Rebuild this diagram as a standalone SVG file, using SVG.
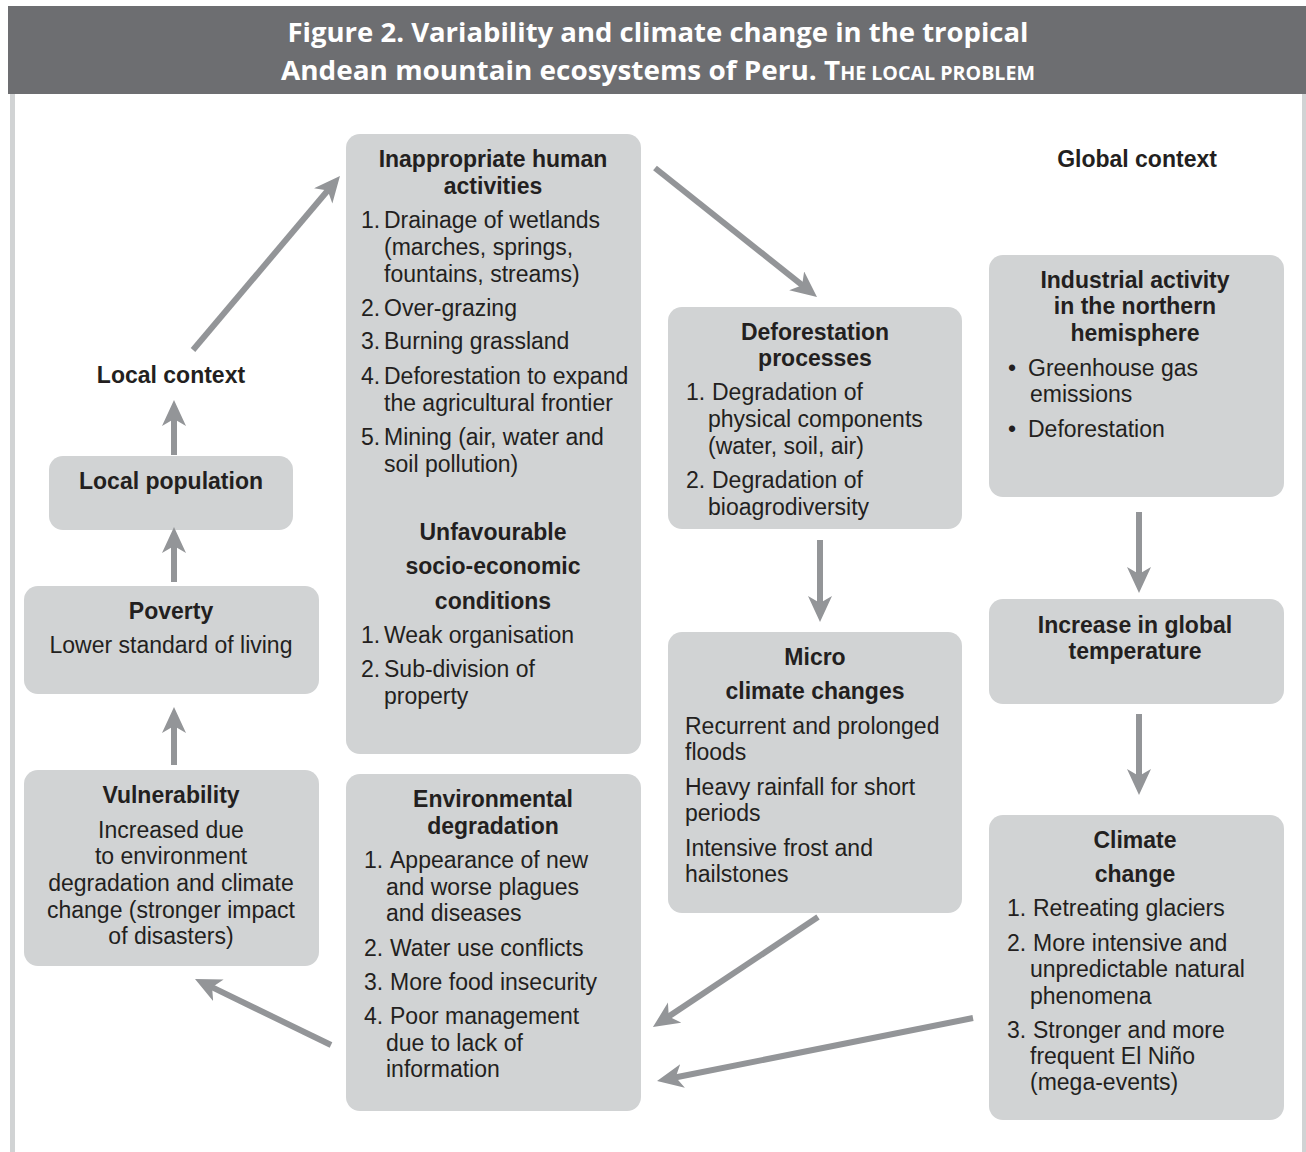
<svg xmlns="http://www.w3.org/2000/svg" width="1306" height="1152" viewBox="0 0 1306 1152">
<style>
.box{fill:#d1d3d4}
.t{font-family:'Liberation Sans',Arial,sans-serif;font-size:23px;fill:#231f20}
.b{font-weight:700}
.c{text-anchor:middle}
.h{font-family:'Open Sans','Liberation Sans',sans-serif;font-weight:700;fill:#ffffff;text-anchor:middle}
.ar{stroke:#939598;stroke-width:6;fill:none;marker-end:url(#ah)}
</style>
<defs>
<marker id="ah" markerUnits="userSpaceOnUse" markerWidth="28" markerHeight="26" refX="9" refY="12" orient="auto" viewBox="0 0 28 26">
<path d="M0,0 L26,12 L0,24 L7,12 z" fill="#939598"/>
</marker>
</defs>
<rect x="0" y="0" width="1306" height="1152" fill="#ffffff"/>
<g id="frame">
<rect x="8" y="6" width="1298" height="88" fill="#6d6e71"/>
<rect x="10" y="94" width="5" height="1058" fill="#d1d3d4"/>
<rect x="1302" y="94" width="4" height="1058" fill="#d1d3d4"/>
<text class="h" x="658" y="42" font-size="27" textLength="741" lengthAdjust="spacingAndGlyphs">Figure 2. Variability and climate change in the tropical</text>
<text class="h" x="658" y="80" font-size="27" textLength="754" lengthAdjust="spacingAndGlyphs">Andean mountain ecosystems of Peru. T<tspan font-size="19">HE LOCAL PROBLEM</tspan></text>
</g>
<g id="labels">
<text class="t b c" x="1137" y="167">Global context</text>
<text class="t b c" x="171" y="383">Local context</text>
</g>
<g id="inappropriate">
<rect class="box" x="346" y="134" width="295" height="620" rx="14"/>
<text class="t b c" x="493" y="167">Inappropriate human</text>
<text class="t b c" x="493" y="194">activities</text>
<text class="t" x="361" y="228">1.</text><text class="t" x="384" y="228">Drainage of wetlands</text>
<text class="t" x="384" y="255">(marches, springs,</text>
<text class="t" x="384" y="282">fountains, streams)</text>
<text class="t" x="361" y="316">2.</text><text class="t" x="384" y="316">Over-grazing</text>
<text class="t" x="361" y="349">3.</text><text class="t" x="384" y="349">Burning grassland</text>
<text class="t" x="361" y="384">4.</text><text class="t" x="384" y="384">Deforestation to expand</text>
<text class="t" x="384" y="411">the agricultural frontier</text>
<text class="t" x="361" y="445">5.</text><text class="t" x="384" y="445">Mining (air, water and</text>
<text class="t" x="384" y="472">soil pollution)</text>
<text class="t b c" x="493" y="540">Unfavourable</text>
<text class="t b c" x="493" y="574">socio-economic</text>
<text class="t b c" x="493" y="609">conditions</text>
<text class="t" x="361" y="643">1.</text><text class="t" x="384" y="643">Weak organisation</text>
<text class="t" x="361" y="677">2.</text><text class="t" x="384" y="677">Sub-division of</text>
<text class="t" x="384" y="704">property</text>
</g>
<g id="deforestation">
<rect class="box" x="668" y="307" width="294" height="222" rx="14"/>
<text class="t b c" x="815" y="340">Deforestation</text>
<text class="t b c" x="815" y="366">processes</text>
<text class="t" x="686" y="400">1.</text><text class="t" x="712" y="400">Degradation of</text>
<text class="t" x="708" y="427">physical components</text>
<text class="t" x="708" y="454">(water, soil, air)</text>
<text class="t" x="686" y="488">2.</text><text class="t" x="712" y="488">Degradation of</text>
<text class="t" x="708" y="515">bioagrodiversity</text>
</g>
<g id="micro">
<rect class="box" x="668" y="632" width="294" height="281" rx="14"/>
<text class="t b c" x="815" y="665">Micro</text>
<text class="t b c" x="815" y="699">climate changes</text>
<text class="t" x="685" y="734">Recurrent and prolonged</text>
<text class="t" x="685" y="760">floods</text>
<text class="t" x="685" y="795">Heavy rainfall for short</text>
<text class="t" x="685" y="821">periods</text>
<text class="t" x="685" y="856">Intensive frost and</text>
<text class="t" x="685" y="882">hailstones</text>
</g>
<g id="environmental">
<rect class="box" x="346" y="774" width="295" height="337" rx="14"/>
<text class="t b c" x="493" y="807">Environmental</text>
<text class="t b c" x="493" y="834">degradation</text>
<text class="t" x="364" y="868">1.</text><text class="t" x="390" y="868">Appearance of new</text>
<text class="t" x="386" y="895">and worse plagues</text>
<text class="t" x="386" y="921">and diseases</text>
<text class="t" x="364" y="956">2.</text><text class="t" x="390" y="956">Water use conflicts</text>
<text class="t" x="364" y="990">3.</text><text class="t" x="390" y="990">More food insecurity</text>
<text class="t" x="364" y="1024">4.</text><text class="t" x="390" y="1024">Poor management</text>
<text class="t" x="386" y="1051">due to lack of</text>
<text class="t" x="386" y="1077">information</text>
</g>
<g id="industrial">
<rect class="box" x="989" y="255" width="295" height="242" rx="14"/>
<text class="t b c" x="1135" y="288">Industrial activity</text>
<text class="t b c" x="1135" y="314">in the northern</text>
<text class="t b c" x="1135" y="341">hemisphere</text>
<text class="t" x="1008" y="376">•</text><text class="t" x="1028" y="376">Greenhouse gas</text>
<text class="t" x="1030" y="402">emissions</text>
<text class="t" x="1008" y="437">•</text><text class="t" x="1028" y="437">Deforestation</text>
</g>
<g id="increase">
<rect class="box" x="989" y="599" width="295" height="105" rx="14"/>
<text class="t b c" x="1135" y="633">Increase in global</text>
<text class="t b c" x="1135" y="659">temperature</text>
</g>
<g id="climate">
<rect class="box" x="989" y="815" width="295" height="305" rx="14"/>
<text class="t b c" x="1135" y="848">Climate</text>
<text class="t b c" x="1135" y="882">change</text>
<text class="t" x="1007" y="916">1.</text><text class="t" x="1033" y="916">Retreating glaciers</text>
<text class="t" x="1007" y="951">2.</text><text class="t" x="1033" y="951">More intensive and</text>
<text class="t" x="1030" y="977">unpredictable natural</text>
<text class="t" x="1030" y="1004">phenomena</text>
<text class="t" x="1007" y="1038">3.</text><text class="t" x="1033" y="1038">Stronger and more</text>
<text class="t" x="1030" y="1064">frequent El Niño</text>
<text class="t" x="1030" y="1090">(mega-events)</text>
</g>
<g id="local-population">
<rect class="box" x="49" y="456" width="244" height="74" rx="14"/>
<text class="t b c" x="171" y="489">Local population</text>
</g>
<g id="poverty">
<rect class="box" x="24" y="586" width="295" height="108" rx="14"/>
<text class="t b c" x="171" y="619">Poverty</text>
<text class="t c" x="171" y="653">Lower standard of living</text>
</g>
<g id="vulnerability">
<rect class="box" x="24" y="770" width="295" height="196" rx="14"/>
<text class="t b c" x="171" y="803">Vulnerability</text>
<text class="t c" x="171" y="838">Increased due</text>
<text class="t c" x="171" y="864">to environment</text>
<text class="t c" x="171" y="891">degradation and climate</text>
<text class="t c" x="171" y="918">change (stronger impact</text>
<text class="t c" x="171" y="944">of disasters)</text>
</g>
<g id="connectors">
<line class="ar" x1="174" y1="455" x2="174" y2="417"/>
<line class="ar" x1="174" y1="582" x2="174" y2="544"/>
<line class="ar" x1="174" y1="765" x2="174" y2="724"/>
<line class="ar" x1="193" y1="350" x2="329" y2="189"/>
<line class="ar" x1="655" y1="168" x2="803.7" y2="286.4"/>
<line class="ar" x1="820" y1="540" x2="820" y2="605"/>
<line class="ar" x1="1139" y1="512" x2="1139" y2="576"/>
<line class="ar" x1="1139" y1="714" x2="1139" y2="778"/>
<line class="ar" x1="818" y1="917" x2="667.1" y2="1017.6"/>
<line class="ar" x1="973" y1="1018" x2="673.7" y2="1077.7"/>
<line class="ar" x1="331" y1="1045" x2="210.3" y2="986.4"/>
</g>
</svg>
